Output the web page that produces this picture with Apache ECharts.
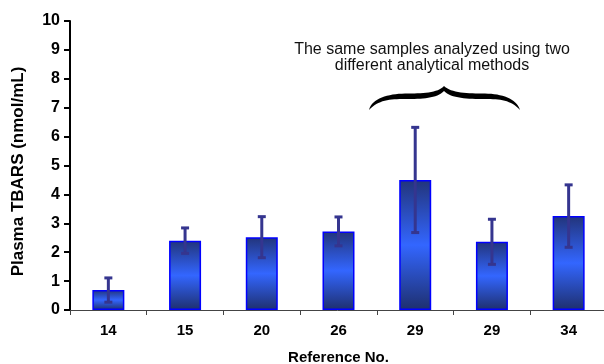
<!DOCTYPE html>
<html>
<head>
<meta charset="utf-8">
<script src="https://cdn.jsdelivr.net/npm/echarts@6/dist/echarts.min.js"></script>
<style>
  html, body { margin: 0; padding: 0; background: #fff; }
  #main { width: 604px; height: 364px; }
</style>
</head>
<body>
<div id="main"></div>
<script>
// reference numbers on the x axis (two bars share "29")
const categories = ['14', '15', '20', '26', '29', '29', '34'];
// mean plasma TBARS, nmol/mL
const means = [0.69, 2.40, 2.52, 2.72, 4.50, 2.36, 3.25];
// +/- error
const errors = [0.42, 0.44, 0.71, 0.50, 1.82, 0.78, 1.08];
const yTicks = [0, 1, 2, 3, 4, 5, 6, 7, 8, 9, 10];

const errData = means.map((m, i) => [i, m - errors[i], m + errors[i]]);

const chart = echarts.init(document.getElementById('main'));

const barFill = {
  type: 'linear', x: 0, y: 0, x2: 0, y2: 1,
  colorStops: [
    {offset: 0, color: '#22347a'},
    {offset: 0.5, color: '#3366ff'},
    {offset: 1, color: '#1e2f6e'}
  ]
};

// curly brace outline, as a chain of cubic bezier pieces
const braceSegs = [
  [[369, 110], [372, 98], [388, 94], [405, 93.5]],
  [[405, 93.5], [422, 93.5], [438, 93], [444, 86]],
  [[444, 86], [451, 93], [468, 93.5], [485, 93.5]],
  [[485, 93.5], [502, 94], [516, 98], [520, 110]],
  [[520, 110], [511, 100], [500, 99], [485, 99]],
  [[485, 99], [468, 99], [451, 98.5], [444, 91]],
  [[444, 91], [437, 98.5], [422, 99], [405, 99]],
  [[405, 99], [390, 99], [378, 100], [369, 110]]
];
function bezierPoints(segs) {
  const pts = [];
  segs.forEach(s => {
    for (let k = 0; k < 16; k++) {
      const t = k / 16, u = 1 - t;
      const a = u * u * u, b = 3 * u * u * t, c = 3 * u * t * t, d = t * t * t;
      pts.push([
        a * s[0][0] + b * s[1][0] + c * s[2][0] + d * s[3][0],
        a * s[0][1] + b * s[1][1] + c * s[2][1] + d * s[3][1]
      ]);
    }
  });
  return pts;
}

const option = {
  animation: false,
  backgroundColor: '#fff',
  grid: {left: 70, top: 21, width: 537, height: 289, outerBoundsMode: 'none', containLabel: false},
  xAxis: {
    type: 'category',
    data: categories,
    boundaryGap: true,
    name: 'Reference No.',
    nameLocation: 'middle',
    nameGap: 40,
    nameTextStyle: {fontFamily: 'Arial', fontWeight: 'bold', fontSize: 15, color: '#000'},
    axisLine: {lineStyle: {color: '#444', width: 1}},
    axisTick: {show: true, length: 5, lineStyle: {color: '#444'}},
    axisLabel: {fontFamily: 'Arial', fontWeight: 'bold', fontSize: 15, color: '#000', margin: 13}
  },
  yAxis: {
    type: 'value',
    min: yTicks[0],
    max: yTicks[yTicks.length - 1],
    interval: 1,
    name: 'Plasma TBARS (nmol/mL)',
    nameLocation: 'middle',
    nameGap: 43,
    nameTextStyle: {fontFamily: 'Arial', fontWeight: 'bold', fontSize: 17, color: '#000', padding: [0, 12, 0, 0]},
    splitLine: {show: false},
    axisLine: {show: true, lineStyle: {color: '#000', width: 2}},
    axisTick: {show: true, inside: false, length: 6, lineStyle: {color: '#000', width: 2}},
    axisLabel: {fontFamily: 'Arial', fontWeight: 'bold', fontSize: 16, color: '#000', margin: 10}
  },
  series: [
    {
      type: 'bar',
      data: means,
      barWidth: 32,
      itemStyle: {color: barFill, borderColor: '#0000ff', borderWidth: 1.5}
    },
    {
      type: 'custom',
      data: errData,
      z: 5,
      renderItem: function (params, api) {
        const x = api.value(0);
        const lo = api.coord([x, api.value(1)]);
        const hi = api.coord([x, api.value(2)]);
        const cap = 4;
        const style = {stroke: '#35358f', lineWidth: 3};
        return {
          type: 'group',
          children: [
            {type: 'line', shape: {x1: hi[0], y1: hi[1], x2: lo[0], y2: lo[1]}, style: style},
            {type: 'line', shape: {x1: hi[0] - cap, y1: hi[1], x2: hi[0] + cap, y2: hi[1]}, style: style},
            {type: 'line', shape: {x1: lo[0] - cap, y1: lo[1], x2: lo[0] + cap, y2: lo[1]}, style: style}
          ]
        };
      }
    }
  ],
  graphic: [
    {
      type: 'text',
      x: 432,
      y: 42,
      style: {
        text: 'The same samples analyzed using two\ndifferent analytical methods',
        align: 'center',
        verticalAlign: 'top',
        fontFamily: 'Arial',
        fontSize: 16,
        lineHeight: 16,
        fill: '#111'
      }
    },
    {
      type: 'polygon',
      shape: {points: bezierPoints(braceSegs)},
      style: {fill: '#000'}
    }
  ]
};

chart.setOption(option);
</script>
</body>
</html>
